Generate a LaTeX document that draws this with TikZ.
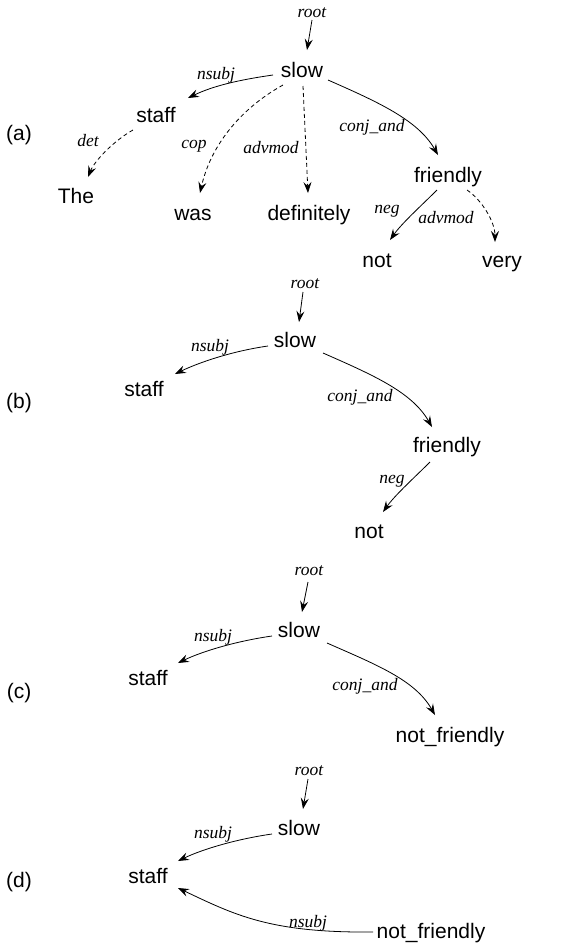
\documentclass[tikz,border=0pt]{standalone}
\usepackage{fontspec}
\setmainfont{Liberation Sans}
\newfontfamily\lblfont{Liberation Serif}
\usetikzlibrary{arrows.meta}
\tikzset{
  word/.style={anchor=base, inner sep=1pt, font=\fontsize{21}{25}\selectfont},
  rel/.style={anchor=base, inner sep=1pt, font=\lblfont\itshape\fontsize{17.5}{21}\selectfont},
  panel/.style={anchor=base, inner sep=1pt, font=\fontsize{21}{25}\selectfont},
  edge/.style={line width=0.8pt, -{Stealth[length=11pt,width=8pt,inset=4pt]}},
  dedge/.style={edge, dash pattern=on 4pt off 3pt},
}
\begin{document}
\begin{tikzpicture}[x=1pt, y=-1pt]
\useasboundingbox (0,0) rectangle (571,946);
% ---------- (a)
\node[panel] (labA) at (19,140) {(a)};
\node[rel] (rootA) at (312,17) {root};
\node[word] (slowA) at (302,77) {slow};
\node[word] (staffA) at (156,122) {staff};
\node[word] (theA) at (76,203) {The};
\node[word] (wasA) at (193,220) {was};
\node[word] (defA) at (309,220) {definitely};
\node[word] (friendlyA) at (448,182) {friendly};
\node[word] (notA) at (377,267) {not};
\node[word] (veryA) at (502,267) {very};
\node[rel] (nsubjA) at (216,79) {nsubj};
\node[rel] (detA) at (88,146) {det};
\node[rel] (copA) at (194,148) {cop};
\node[rel] (advA) at (271,153) {advmod};
\node[rel] (conjA) at (372,131) {conj\_and};
\node[rel] (negA) at (387,213) {neg};
\node[rel] (adv2A) at (446,223) {advmod};
\draw[edge] ([shift={(0,3)}]rootA.base) -- ([shift={(5,-27)}]slowA.base);
\draw[edge] ([shift={(-29,-2)}]slowA.base) .. controls +(-35,5) and +(25,-12) .. ([shift={(32,-24)}]staffA.base);
\draw[dedge] ([shift={(-23,8)}]staffA.base) .. controls +(-18,10) and +(7,-17) .. ([shift={(12,-26)}]theA.base);
\draw[dedge] ([shift={(-19,8)}]slowA.base) .. controls +(-45,25) and +(10,-45) .. ([shift={(7,-27)}]wasA.base);
\draw[dedge] ([shift={(1,9)}]slowA.base) -- ([shift={(-1,-27)}]defA.base);
\draw[edge] ([shift={(26,3)}]slowA.base) .. controls +(50,22) and +(-20,-35) .. ([shift={(-10,-27)}]friendlyA.base);
\draw[edge] ([shift={(-11,8)}]friendlyA.base) .. controls +(-15,15) and +(12,-17) .. ([shift={(13,-27)}]notA.base);
\draw[dedge] ([shift={(19,8)}]friendlyA.base) .. controls +(15,10) and +(0,-20) .. ([shift={(-7,-25)}]veryA.base);
% ---------- (b)
\node[panel] (labB) at (19,408) {(b)};
\node[rel] (rootB) at (305,288) {root};
\node[word] (slowB) at (295,347) {slow};
\node[word] (staffB) at (144,396) {staff};
\node[word] (friendlyB) at (447,452) {friendly};
\node[word] (notB) at (369,538) {not};
\node[rel] (nsubjB) at (210,351) {nsubj};
\node[rel] (conjB) at (360,401) {conj\_and};
\node[rel] (negB) at (392,483) {neg};
\draw[edge] ([shift={(-2,4)}]rootB.base) -- ([shift={(4,-25)}]slowB.base);
\draw[edge] ([shift={(-27,-1)}]slowB.base) .. controls +(-35,5) and +(25,-12) .. ([shift={(31,-22)}]staffB.base);
\draw[edge] ([shift={(28,6)}]slowB.base) .. controls +(50,22) and +(-20,-35) .. ([shift={(-15,-25)}]friendlyB.base);
\draw[edge] ([shift={(-17,10)}]friendlyB.base) .. controls +(-15,15) and +(12,-17) .. ([shift={(14,-26)}]notB.base);
% ---------- (c)
\node[panel] (labC) at (19,698) {(c)};
\node[rel] (rootC) at (309,575) {root};
\node[word] (slowC) at (299,637) {slow};
\node[word] (staffC) at (148,685) {staff};
\node[word] (nfC) at (450,742) {not\_friendly};
\node[rel] (nsubjC) at (213,641) {nsubj};
\node[rel] (conjC) at (365,690) {conj\_and};
\draw[edge] ([shift={(-1,7)}]rootC.base) -- ([shift={(3,-25)}]slowC.base);
\draw[edge] ([shift={(-27,-1)}]slowC.base) .. controls +(-35,5) and +(25,-12) .. ([shift={(30,-22)}]staffC.base);
\draw[edge] ([shift={(28,6)}]slowC.base) .. controls +(50,22) and +(-20,-35) .. ([shift={(-15,-27)}]nfC.base);
% ---------- (d)
\node[panel] (labD) at (19,887) {(d)};
\node[rel] (rootD) at (309,775) {root};
\node[word] (slowD) at (299,835) {slow};
\node[word] (staffD) at (148,883) {staff};
\node[word] (nfD) at (431,938) {not\_friendly};
\node[rel] (nsubjD) at (213,838) {nsubj};
\node[rel] (nsubjD2) at (308,927) {nsubj};
\draw[edge] ([shift={(-1,4)}]rootD.base) -- ([shift={(4,-26)}]slowD.base);
\draw[edge] ([shift={(-27,-1)}]slowD.base) .. controls +(-35,5) and +(25,-12) .. ([shift={(30,-22)}]staffD.base);
\draw[edge] ([shift={(-58,-6)}]nfD.base) .. controls +(-103,1) and +(57,27) .. ([shift={(30,5)}]staffD.base);
\end{tikzpicture}
\end{document}
